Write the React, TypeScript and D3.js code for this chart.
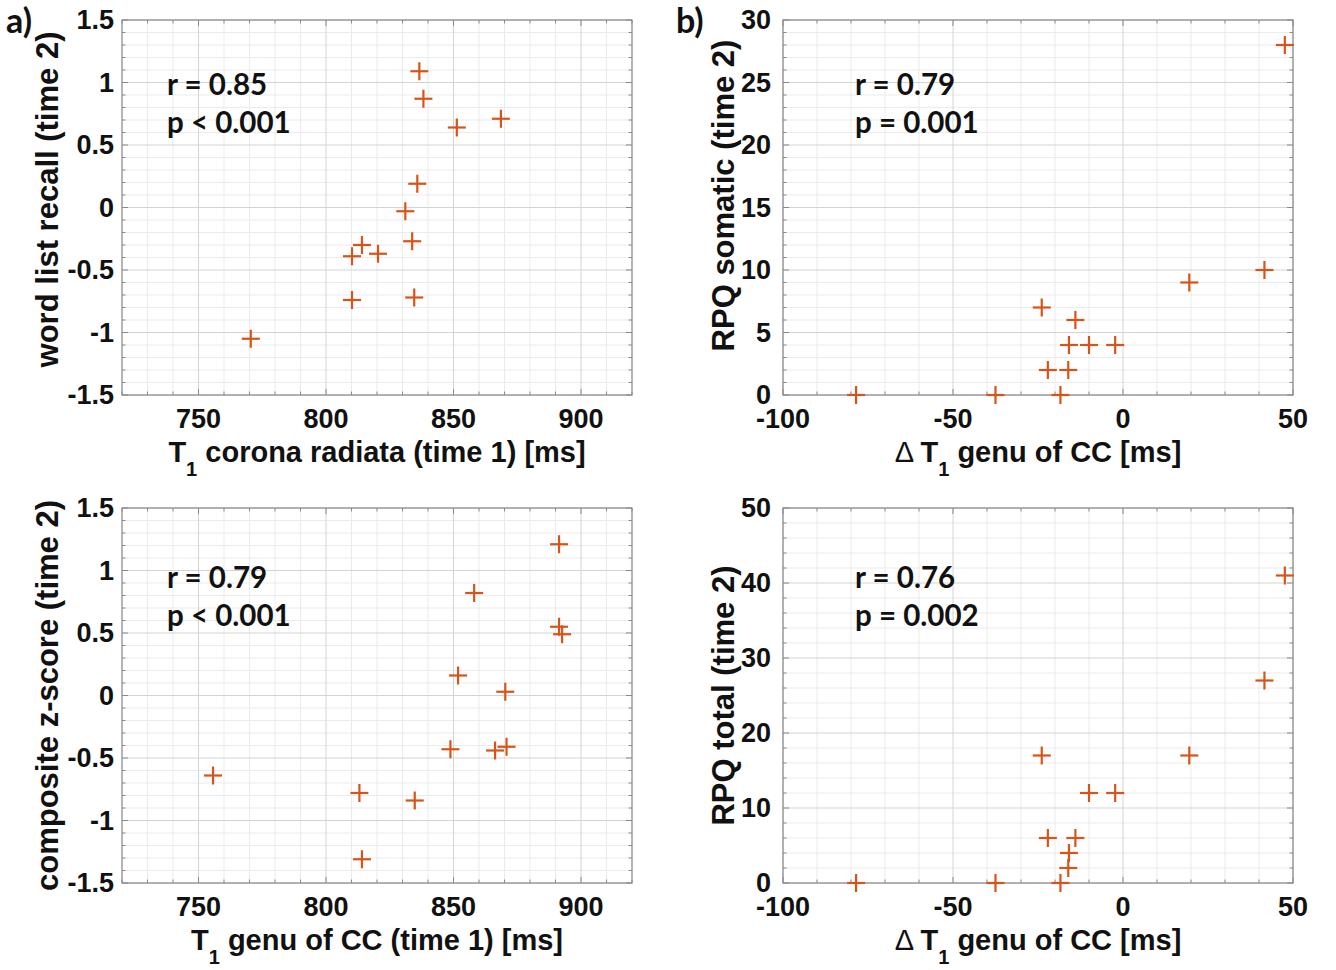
import React from 'react';
import * as d3 from 'd3';

// a) word list recall vs T1 corona radiata
const A_X = [836.6, 838.2, 851.3, 868.6, 835.8, 831.1, 833.8, 814.1, 810.2, 820.4, 810.2, 834.6, 770.5];
const A_Y = [1.09, 0.87, 0.64, 0.71, 0.19, -0.03, -0.27, -0.30, -0.39, -0.37, -0.74, -0.72, -1.05];

// b) RPQ somatic vs delta T1 genu
const B_X = [47.6, 41.6, 19.5, -23.9, -14, -15.9, -10, -2.3, -22.1, -16.1, -78.5, -37.5, -18.4];
const B_Y = [28, 10, 9, 7, 6, 4, 4, 4, 2, 2, 0, 0, 0];

// c) composite z-score vs T1 genu
const C_X = [891.4, 858.1, 891.4, 892.6, 851.8, 870.3, 848.8, 866.3, 870.8, 755.7, 813.1, 834.8, 814.1];
const C_Y = [1.21, 0.82, 0.55, 0.49, 0.16, 0.03, -0.43, -0.44, -0.41, -0.64, -0.78, -0.84, -1.31];

// d) RPQ total vs delta T1 genu
const D_X = [47.6, 41.6, 19.5, -23.9, -10, -2.3, -22.1, -14, -15.9, -16.1, -78.5, -37.5, -18.4];
const D_Y = [41, 27, 17, 17, 12, 12, 6, 6, 4, 2, 0, 0, 0];

const T1_TICKS = [750, 800, 850, 900];
const DT_TICKS = [-100, -50, 0, 50];
const Z_TICKS = [-1.5, -1, -0.5, 0, 0.5, 1, 1.5];
const SOM_TICKS = [0, 5, 10, 15, 20, 25, 30];
const TOT_TICKS = [0, 10, 20, 30, 40, 50];

const MARK = '#d95319';
const TICK_FONT = '"Liberation Sans", Arial, sans-serif';
const NOTE_FONT = 'Lato, "Open Sans", sans-serif';

const panels = [
  {
    key: 'a', left: 122, top: 20, xs: A_X, ys: A_Y,
    xDomain: [720, 920], xTicks: T1_TICKS, xStep: 10,
    yDomain: [-1.5, 1.5], yTicks: Z_TICKS, yStep: 0.1, yGap: 8,
    xLabel: ['', 'T', ' corona radiata (time 1) [ms]'], yLabel: 'word list recall (time 2)', yLabelX: 58, yLabelShift: -8,
    r: 'r = 0.85', p: 'p < 0.001', noteDx: 45, noteDy: 75, letter: 'a)', letterX: 6,
  },
  {
    key: 'b', left: 783, top: 20, xs: B_X, ys: B_Y,
    xDomain: [-100, 50], xTicks: DT_TICKS, xStep: 10,
    yDomain: [0, 30], yTicks: SOM_TICKS, yStep: 1, yGap: 12,
    xLabel: ['\u0394 ', 'T', ' genu of CC [ms]'], yLabel: 'RPQ somatic (time 2)', yLabelX: 734, yLabelShift: -12,
    r: 'r = 0.79', p: 'p = 0.001', noteDx: 72, noteDy: 75, letter: 'b)', letterX: 676,
  },
  {
    key: 'c', left: 122, top: 508, xs: C_X, ys: C_Y,
    xDomain: [720, 920], xTicks: T1_TICKS, xStep: 10,
    yDomain: [-1.5, 1.5], yTicks: Z_TICKS, yStep: 0.1, yGap: 8,
    xLabel: ['', 'T', ' genu of CC (time 1) [ms]'], yLabel: 'composite z-score (time 2)', yLabelX: 58, yLabelShift: 0,
    r: 'r = 0.79', p: 'p < 0.001', noteDx: 45, noteDy: 80, letter: '', letterX: 0,
  },
  {
    key: 'd', left: 783, top: 508, xs: D_X, ys: D_Y,
    xDomain: [-100, 50], xTicks: DT_TICKS, xStep: 10,
    yDomain: [0, 50], yTicks: TOT_TICKS, yStep: 2, yGap: 12,
    xLabel: ['\u0394 ', 'T', ' genu of CC [ms]'], yLabel: 'RPQ total (time 2)', yLabelX: 734, yLabelShift: 0,
    r: 'r = 0.76', p: 'p = 0.002', noteDx: 72, noteDy: 80, letter: '', letterX: 0,
  },
];

const W = 510, H = 375;

function steps(domain: number[], step: number) {
  const n = Math.round((domain[1] - domain[0]) / step);
  return d3.range(n + 1).map(i => domain[0] + i * step);
}

function Panel({ cfg }: { cfg: any }) {
  const x = d3.scaleLinear().domain(cfg.xDomain).range([0, W]);
  const y = d3.scaleLinear().domain(cfg.yDomain).range([H, 0]);
  const xMinor = steps(cfg.xDomain, cfg.xStep);
  const yMinor = steps(cfg.yDomain, cfg.yStep);
  const isMajorX = (v: number) => cfg.xTicks.some((t: number) => Math.abs(t - v) < 1e-6);
  const isMajorY = (v: number) => cfg.yTicks.some((t: number) => Math.abs(t - v) < 1e-6);

  return (
    <g>
      <g transform={`translate(${cfg.left},${cfg.top})`}>
        <rect width={W} height={H} fill="#fff" />
        {/* minor grid */}
        {xMinor.filter(v => !isMajorX(v)).map((v, i) => (
          <line key={'gx' + i} x1={x(v)} x2={x(v)} y1={0} y2={H} stroke="#ebebeb" strokeWidth={1} />
        ))}
        {yMinor.filter(v => !isMajorY(v)).map((v, i) => (
          <line key={'gy' + i} x1={0} x2={W} y1={y(v)} y2={y(v)} stroke="#ebebeb" strokeWidth={1} />
        ))}
        {/* major grid */}
        {cfg.xTicks.map((v: number) => (
          <line key={'GX' + v} x1={x(v)} x2={x(v)} y1={0} y2={H} stroke="#d4d4d4" strokeWidth={1} />
        ))}
        {cfg.yTicks.map((v: number) => (
          <line key={'GY' + v} x1={0} x2={W} y1={y(v)} y2={y(v)} stroke="#d4d4d4" strokeWidth={1} />
        ))}
        {/* ticks, inside, all four sides */}
        {xMinor.map((v, i) => {
          const len = isMajorX(v) ? 6 : 3.5;
          return (
            <g key={'tx' + i} stroke="#8a8a8a" strokeWidth={1}>
              <line x1={x(v)} x2={x(v)} y1={H} y2={H - len} />
              <line x1={x(v)} x2={x(v)} y1={0} y2={len} />
            </g>
          );
        })}
        {yMinor.map((v, i) => {
          const len = isMajorY(v) ? 6 : 3.5;
          return (
            <g key={'ty' + i} stroke="#8a8a8a" strokeWidth={1}>
              <line x1={0} x2={len} y1={y(v)} y2={y(v)} />
              <line x1={W} x2={W - len} y1={y(v)} y2={y(v)} />
            </g>
          );
        })}
        <rect width={W} height={H} fill="none" stroke="#8a8a8a" strokeWidth={1.2} />

        {/* tick labels */}
        {cfg.xTicks.map((v: number) => (
          <text key={'lx' + v} x={x(v)} y={H + 33}
            textAnchor="middle" fontFamily={TICK_FONT} fontWeight="bold" fontSize={27} fill="#111">
            {String(v)}
          </text>
        ))}
        {cfg.yTicks.map((v: number) => (
          <text key={'ly' + v} x={-cfg.yGap} y={y(v) + 9}
            textAnchor="end" fontFamily={TICK_FONT} fontWeight="bold" fontSize={27} fill="#111">
            {String(v)}
          </text>
        ))}

        {/* markers */}
        {cfg.xs.map((xv: number, i: number) => {
          const cx = x(xv), cy = y(cfg.ys[i]);
          return (
            <g key={'m' + i} stroke={MARK} strokeWidth={2.2}>
              <line x1={cx - 9} x2={cx + 9} y1={cy} y2={cy} />
              <line x1={cx} x2={cx} y1={cy - 9} y2={cy + 9} />
            </g>
          );
        })}

        {/* stats */}
        <text x={cfg.noteDx} y={cfg.noteDy} fontFamily={NOTE_FONT} fontWeight="bold" fontSize={29.5} fill="#111">{cfg.r}</text>
        <text x={cfg.noteDx} y={cfg.noteDy + 38} fontFamily={NOTE_FONT} fontWeight="bold" fontSize={29.5} fill="#111">{cfg.p}</text>

        {/* x axis label */}
        <text x={W / 2} y={H + 67} textAnchor="middle"
          fontFamily={TICK_FONT} fontWeight="bold" fontSize={29} fill="#111">
          {cfg.xLabel[0] && <tspan fontWeight="normal">{cfg.xLabel[0]}</tspan>}
          <tspan>{cfg.xLabel[1]}</tspan>
          <tspan dy={14} fontSize={20}>1</tspan>
          <tspan dy={-14}>{cfg.xLabel[2]}</tspan>
        </text>
      </g>

      {/* y axis label */}
      <text transform={`translate(${cfg.yLabelX},${cfg.top + H / 2 + cfg.yLabelShift}) rotate(-90)`}
        textAnchor="middle" fontFamily={TICK_FONT} fontWeight="bold" fontSize={31} fill="#111">
        {cfg.yLabel}
      </text>

      {cfg.letter && (
        <text x={cfg.letterX} y={33} fontFamily={NOTE_FONT} fontWeight="bold" fontSize={34} fill="#111">
          {cfg.letter}
        </text>
      )}
    </g>
  );
}

export default function App() {
  return (
    <svg width={1336} height={970} viewBox="0 0 1336 970"
      style={{ position: 'absolute', left: 0, top: 0, background: '#fff' }}>
      <rect width={1336} height={970} fill="#fff" />
      {panels.map(p => <Panel key={p.key} cfg={p} />)}
    </svg>
  );
}
